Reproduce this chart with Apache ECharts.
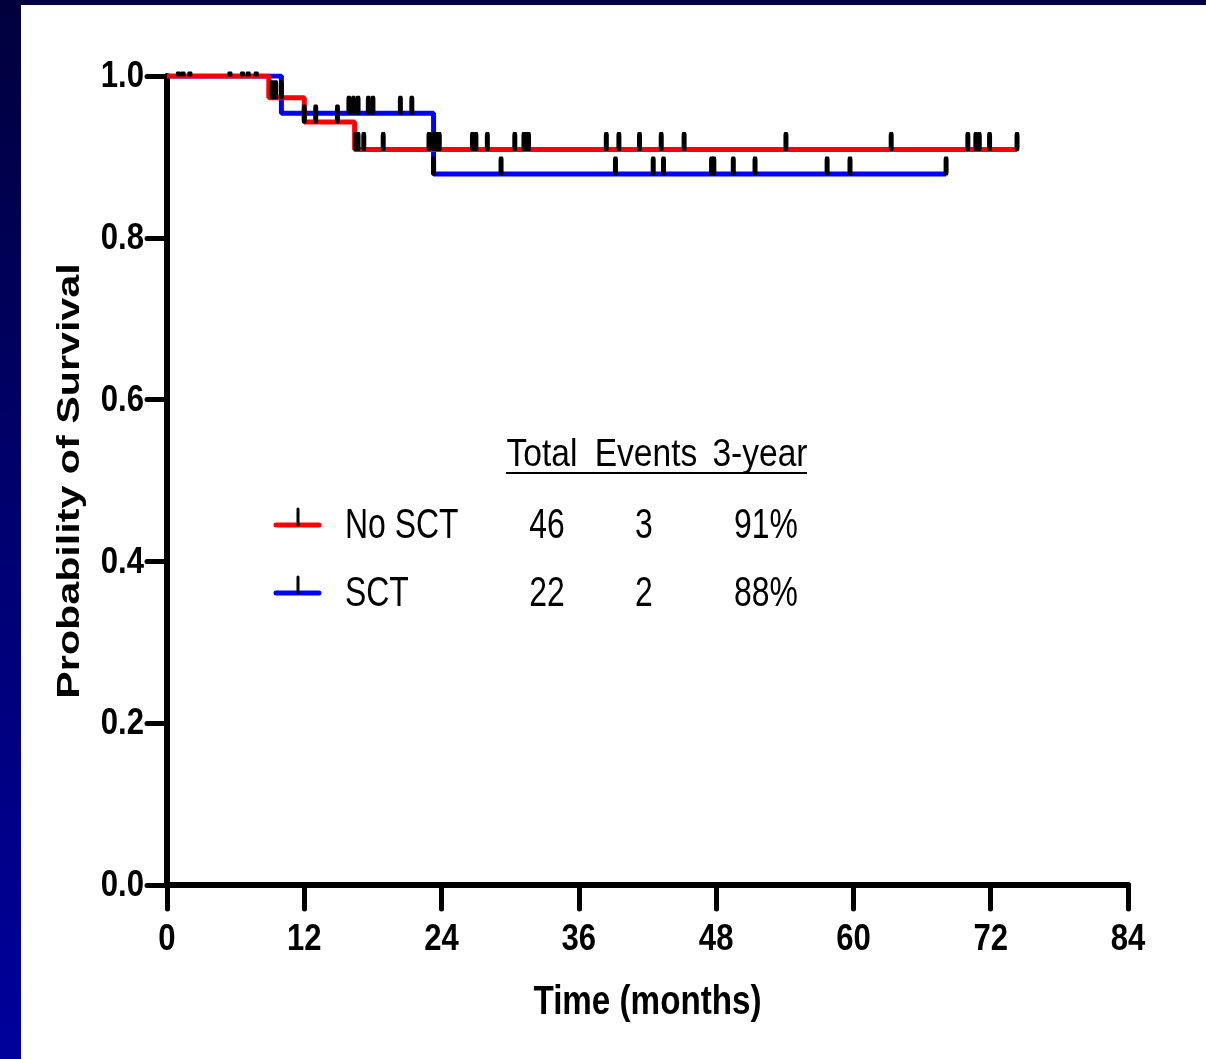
<!DOCTYPE html>
<html>
<head>
<meta charset="utf-8">
<script src="https://cdn.jsdelivr.net/npm/echarts@6/dist/echarts.min.js"></script>
<style>
  html, body { margin: 0; padding: 0; }
  body {
    width: 1206px; height: 1059px; overflow: hidden; position: relative;
    background: linear-gradient(to bottom, #00003c 0%, #000070 50%, #00009c 100%);
  }
  #chart { position: absolute; left: 21px; top: 5px; width: 1185px; height: 1054px; background: #fff; }
</style>
</head>
<body>
<div id="chart"></div>
<script>
// Kaplan-Meier steps (months, survival)
const noSctTimes = [0, 8.9, 12.0, 16.4, 74.3];
const noSctSurv  = [1, 0.973, 0.943, 0.909, 0.909];
const sctTimes   = [0, 10.0, 23.3, 68.1];
const sctSurv    = [1, 0.954, 0.879, 0.879];

// censored observations (months)
const noSctCensored = [1.0, 1.4, 2.0, 5.5, 6.6, 7.1, 7.8, 9.2, 9.5, 10.0, 12.0, 13.0, 14.9,
  16.5, 16.7, 17.2, 18.9, 22.9, 23.3, 23.6, 23.8, 26.7, 27.0, 28.0, 30.4, 31.2, 31.4, 31.6,
  38.4, 39.5, 41.3, 43.2, 45.2, 54.1, 63.3, 70.0, 70.7, 71.0, 71.9, 74.3];
const sctCensored = [15.9, 16.3, 16.7, 17.6, 18.0, 20.4, 21.4, 23.3, 29.2, 39.2, 42.5, 43.4,
  47.6, 47.8, 49.5, 51.4, 57.7, 59.7, 68.1];

// summary table
const groups    = ['No SCT', 'SCT'];
const totals    = ['46', '22'];
const events    = ['3', '2'];
const threeYear = ['91%', '88%'];
const headers   = ['Total', 'Events', '3-year'];

const xTicks = [0, 12, 24, 36, 48, 60, 72, 84];
const yTicks = [0, 0.2, 0.4, 0.6, 0.8, 1.0];

function survAt(times, surv, t) {
  let v = surv[0];
  for (let i = 0; i < times.length; i++) if (times[i] <= t) v = surv[i];
  return v;
}

const sans = "'Liberation Sans', Arial, sans-serif";
const tickSize = (val) => val[1] >= 1 ? [5, 5] : [5, 19];
const censorPoint = (times, surv) => (t) => {
  const s = survAt(times, surv, t);
  return { value: [t, s], symbolOffset: s >= 1 ? [0, -2] : [0, -8] };
};

const chart = echarts.init(document.getElementById('chart'));

chart.setOption({
  animation: false,
  grid: { left: 146, right: 78, top: 71, bottom: 174 },
  xAxis: {
    type: 'value', min: 0, max: 84, interval: 12,
    axisLine: { lineStyle: { color: '#000', width: 6, cap: 'round' } },
    axisTick: { length: 24, lineStyle: { color: '#000', width: 5, cap: 'round' } },
    axisLabel: { show: false },
    splitLine: { show: false }
  },
  yAxis: {
    type: 'value', min: 0, max: 1, interval: 0.2,
    axisLine: { lineStyle: { color: '#000', width: 6, cap: 'round' } },
    axisTick: { length: 20, lineStyle: { color: '#000', width: 5, cap: 'round' } },
    axisLabel: { show: false },
    splitLine: { show: false }
  },
  series: [
    {
      name: 'SCT', type: 'line', step: 'end', showSymbol: false, z: 2,
      data: sctTimes.map((t, i) => [t, sctSurv[i]]),
      lineStyle: { color: '#0000ff', width: 5 }
    },
    {
      name: 'No SCT', type: 'line', step: 'end', showSymbol: false, z: 3,
      data: noSctTimes.map((t, i) => [t, noSctSurv[i]]),
      lineStyle: { color: '#ff0000', width: 5 }
    },
    {
      type: 'scatter', z: 4, symbol: 'roundRect', clip: false,
      data: sctCensored.map(censorPoint(sctTimes, sctSurv)),
      symbolSize: tickSize, itemStyle: { color: '#000', opacity: 1 }
    },
    {
      type: 'scatter', z: 4, symbol: 'roundRect', clip: false,
      data: noSctCensored.map(censorPoint(noSctTimes, noSctSurv)),
      symbolSize: tickSize, itemStyle: { color: '#000', opacity: 1 }
    }
  ]
});

// condensed text (tick labels, titles, table) placed from the axis scales
const graphic = [];
xTicks.forEach((v) => {
  const px = chart.convertToPixel({ xAxisIndex: 0 }, v);
  graphic.push({
    type: 'text', x: px, y: 935, scaleX: 0.84,
    style: { text: String(v), font: 'bold 37px ' + sans, fill: '#000', align: 'center', verticalAlign: 'middle' }
  });
});
yTicks.forEach((v) => {
  const py = chart.convertToPixel({ yAxisIndex: 0 }, v);
  graphic.push({
    type: 'text', x: 123, y: py + 1, scaleX: 0.84,
    style: { text: v.toFixed(1), font: 'bold 37px ' + sans, fill: '#000', align: 'right', verticalAlign: 'middle' }
  });
});
const xMid = chart.convertToPixel({ xAxisIndex: 0 }, 42);
graphic.push({
  type: 'text', x: xMid, y: 998, scaleX: 0.83,
  style: { text: 'Time (months)', font: 'bold 40px ' + sans, fill: '#000', align: 'center', verticalAlign: 'middle' }
});
graphic.push({
  type: 'text', x: 49, y: 476, rotation: Math.PI / 2, scaleX: 1.33,
  style: { text: 'Probability of Survival', font: 'bold 31px ' + sans, fill: '#000', align: 'center', verticalAlign: 'middle' }
});

const colX = [521, 625, 739];
const rowY = [519, 587];
graphic.push({
  type: 'line', shape: { x1: 485, y1: 468, x2: 786, y2: 468 },
  style: { stroke: '#000', lineWidth: 2 }
});
headers.forEach((h, i) => {
  graphic.push({
    type: 'text', x: colX[i], y: 450, scaleX: 0.86,
    style: { text: h, font: '39px ' + sans, fill: '#000', align: 'center', verticalAlign: 'middle' }
  });
});
const lineColors = ['#ff0000', '#0000ff'];
groups.forEach((g, r) => {
  graphic.push({
    type: 'line', shape: { x1: 255, y1: rowY[r] + 1, x2: 298, y2: rowY[r] + 1 },
    style: { stroke: lineColors[r], lineWidth: 5, lineCap: 'round' }
  });
  graphic.push({
    type: 'line', shape: { x1: 277, y1: rowY[r] - 15, x2: 277, y2: rowY[r] + 1 },
    style: { stroke: '#000', lineWidth: 3, lineCap: 'round' }
  });
  const row = [g, totals[r], events[r], threeYear[r]];
  const xs = [324, colX[0] + 5, colX[1] - 2, 777];
  const al = ['left', 'center', 'center', 'right'];
  row.forEach((t, c) => {
    graphic.push({
      type: 'text', x: xs[c], y: rowY[r] + 2, scaleX: 0.76,
      style: { text: t, font: '42px ' + sans, fill: '#000', align: al[c], verticalAlign: 'middle' }
    });
  });
});
chart.setOption({ graphic: graphic });
</script>
</body>
</html>
